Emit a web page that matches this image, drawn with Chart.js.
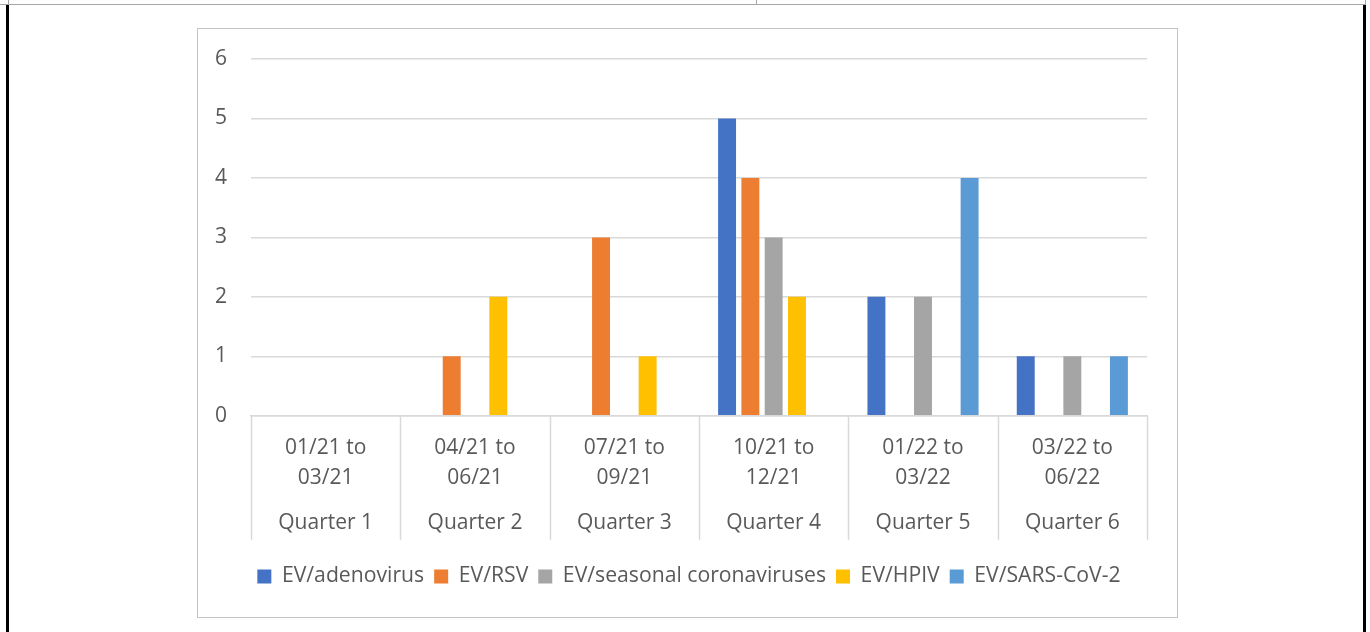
<!DOCTYPE html>
<html>
<head>
<meta charset="utf-8">
<script src="https://cdn.jsdelivr.net/npm/chart.js@4.4.1/dist/chart.umd.min.js"></script>
<style>
  html, body { margin: 0; padding: 0; background: #fff; width: 1370px; height: 632px; overflow: hidden; position: relative; }
  .ln { position: absolute; background: #a6a6a6; }
  .blk { position: absolute; background: #000; }
  #box { position: absolute; left: 197px; top: 28px; width: 979px; height: 588px; border: 1px solid #c4c4c4; }
  canvas { display: block; }
</style>
</head>
<body>
<div class="ln" style="left:0;top:4px;width:1366px;height:1px;"></div>
<div class="ln" style="left:8px;top:0;width:1px;height:5px;"></div>
<div class="ln" style="left:756px;top:0;width:1px;height:5px;"></div>
<div class="ln" style="left:1365px;top:0;width:1px;height:5px;"></div>
<div class="blk" style="left:6px;top:5px;width:3px;height:627px;"></div>
<div class="blk" style="left:1363px;top:5px;width:3px;height:627px;"></div>
<div id="box"><canvas id="c" width="979" height="588"></canvas></div>
<script>
const dateLabels = [['01/21 to', '03/21'], ['04/21 to', '06/21'], ['07/21 to', '09/21'], ['10/21 to', '12/21'], ['01/22 to', '03/22'], ['03/22 to', '06/22']];
const quarterLabels = ['Quarter 1', 'Quarter 2', 'Quarter 3', 'Quarter 4', 'Quarter 5', 'Quarter 6'];
const seriesNames = ['EV/adenovirus', 'EV/RSV', 'EV/seasonal coronaviruses', 'EV/HPIV', 'EV/SARS-CoV-2'];
const adenovirus = [0, 0, 0, 5, 2, 1];
const rsv = [0, 1, 3, 4, 0, 0];
const seasonalCorona = [0, 0, 0, 3, 2, 1];
const hpiv = [0, 2, 1, 2, 0, 0];
const sarsCov2 = [0, 0, 0, 0, 4, 1];
const colors = ['#4472C4', '#ED7D31', '#A5A5A5', '#FFC000', '#5B9BD5'];
const yMin = 0, yMax = 6, yStep = 1;

const FONT = "'Open Sans', sans-serif";
const TXT = '#595959';
const GRID = '#d9d9d9';

const seriesData = [adenovirus, rsv, seasonalCorona, hpiv, sarsCov2];
const datasets = seriesNames.map((n, i) => ({
  label: n,
  data: seriesData[i],
  backgroundColor: colors[i],
  borderWidth: 0,
  categoryPercentage: 0.78,
  barPercentage: 0.77,
  xAxisID: 'x',
  yAxisID: 'y'
}));

const separators = {
  id: 'separators',
  afterLayout(chart) {
    if (chart.legend) { chart.legend.left = 33; }
  },
  afterDraw(chart) {
    const xs = chart.scales.x;
    const ctx = chart.ctx;
    const step = xs.getPixelForValue(1) - xs.getPixelForValue(0);
    const top = chart.chartArea.bottom;
    const bottom = top + 124;
    ctx.save();
    ctx.strokeStyle = GRID;
    ctx.lineWidth = 1.5;
    for (let i = 0; i <= dateLabels.length; i++) {
      const x = Math.round(xs.getPixelForValue(0) - step / 2 + i * step) + 0.5;
      ctx.beginPath();
      ctx.moveTo(x, top);
      ctx.lineTo(x, bottom);
      ctx.stroke();
    }
    ctx.restore();
  }
};

new Chart(document.getElementById('c'), {
  type: 'bar',
  data: { labels: dateLabels, datasets },
  plugins: [separators],
  options: {
    responsive: false,
    animation: false,
    devicePixelRatio: 1,
    layout: { padding: { top: 30, left: 0, right: 30, bottom: 20 } },
    plugins: {
      tooltip: { enabled: false },
      legend: {
        position: 'bottom',
        align: 'center',
        labels: {
          boxWidth: 14,
          boxHeight: 14,
          padding: 10,
          color: TXT,
          font: { family: FONT, size: 21.2 }
        }
      }
    },
    scales: {
      x: {
        type: 'category',
        position: 'bottom',
        offset: true,
        weight: 0,
        grid: { display: false },
        border: { display: true, color: GRID, width: 1.5 },
        ticks: { color: TXT, font: { family: FONT, size: 21, lineHeight: 1.43 }, padding: 9, maxRotation: 0, autoSkip: false },
        afterFit(s) { s.height = 87; }
      },
      x2: {
        type: 'category',
        labels: quarterLabels,
        position: 'bottom',
        offset: true,
        weight: 1,
        grid: { display: false },
        border: { display: false },
        ticks: { color: TXT, font: { family: FONT, size: 21 }, padding: 0, maxRotation: 0, autoSkip: false },
        afterFit(s) { s.height = 53; }
      },
      y: {
        min: yMin,
        max: yMax,
        grid: { color: GRID, lineWidth: 1.5, drawTicks: true, tickLength: 20, tickColor: 'rgba(0,0,0,0)' },
        border: { display: false },
        ticks: { stepSize: yStep, color: TXT, font: { family: FONT, size: 21 }, padding: 4 },
        afterFit(s) { s.width = 53; }
      }
    }
  }
});
</script>
</body>
</html>
